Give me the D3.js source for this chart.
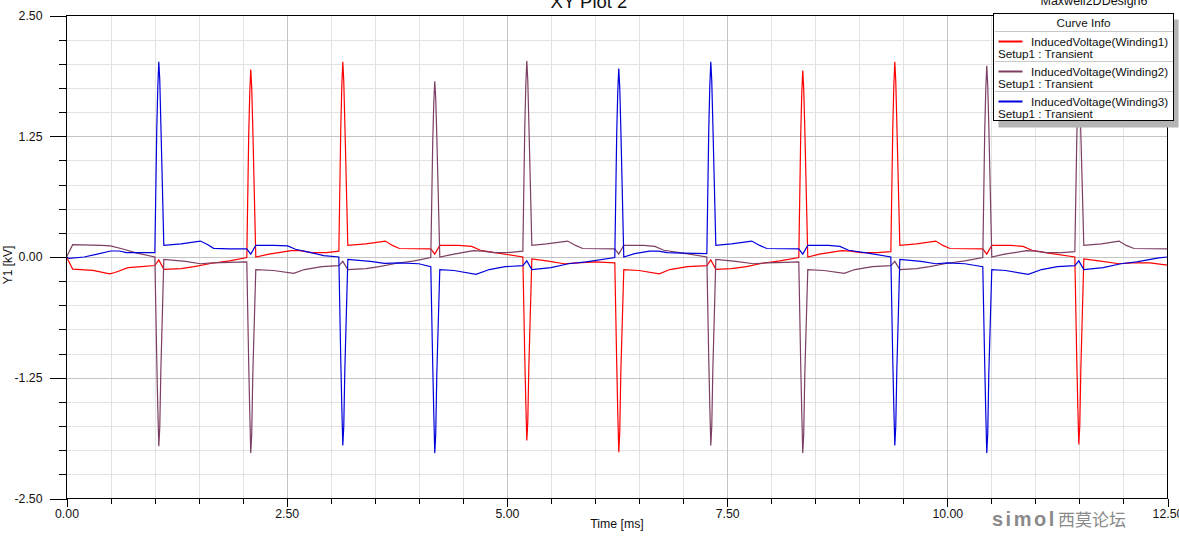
<!DOCTYPE html>
<html><head><meta charset="utf-8">
<script src="https://cdn.jsdelivr.net/npm/d3@7"></script>
<style>
html,body{margin:0;padding:0;background:#fff;overflow:hidden;}
svg{display:block;font-family:"Liberation Sans",Arial,sans-serif;}
</style></head><body>
<svg id="chart" width="1179" height="536"></svg>
<script>
const title = "XY Plot 2";
const designName = "Maxwell2DDesign6";
const xLabel = "Time [ms]";
const yLabel = "Y1 [kV]";
const xTickValues = [0, 2.5, 5, 7.5, 10, 12.5];
const xTickLabels = ["0.00","2.50","5.00","7.50","10.00","12.50"];
const yTickValues = [-2.5, -1.25, 0, 1.25, 2.5];
const yTickLabels = ["-2.50","-1.25","0.00","1.25","2.50"];
const legendTitle = "Curve Info";
const seriesNames = ["InducedVoltage(Winding1)","InducedVoltage(Winding2)","InducedVoltage(Winding3)"];
const seriesSetup = "Setup1 : Transient";
const seriesColors = ["#ff0000","#7c3e62","#0000dd"];

// [time ms, voltage kV]
const winding1 = [
[0,0],[0.07,-0.125],[0.30,-0.138],[0.49,-0.175],[0.55,-0.16],[0.70,-0.11],[0.85,-0.1],[1.003,-0.088],
[1.048,-0.03],
[1.105,-0.128],[1.30,-0.12],[1.45,-0.1],[1.65,-0.065],[1.85,-0.04],[2.047,-0.005],
[2.069,1.28],[2.081,1.71],[2.092,1.94],[2.103,1.75],[2.115,1.34],
[2.149,0.0],[2.30,0.03],[2.55,0.065],[2.65,0.065],[2.78,0.045],[2.95,0.045],[3.092,0.06],
[3.114,1.33],[3.126,1.78],[3.137,2.02],[3.148,1.82],[3.160,1.39],
[3.194,0.12],[3.40,0.135],[3.62,0.165],[3.70,0.12],[3.78,0.088],[4.136,0.085],
[4.181,0.03],
[4.238,0.12],[4.45,0.12],[4.60,0.11],[4.70,0.07],[4.90,0.04],[5.181,0.0],
[5.203,-1.04],[5.215,-1.52],[5.226,-1.90],[5.237,-1.71],[5.249,-1.14],
[5.283,-0.02],[5.45,-0.04],[5.65,-0.07],[5.80,-0.06],[6.0,-0.05],[6.225,-0.06],
[6.247,-1.11],[6.259,-1.62],[6.270,-2.02],[6.281,-1.82],[6.293,-1.21],
[6.327,-0.13],[6.50,-0.14],[6.73,-0.175],[6.85,-0.13],[7.05,-0.1],[7.270,-0.09],
[7.315,-0.03],
[7.372,-0.128],[7.55,-0.12],[7.72,-0.1],[7.90,-0.065],[8.10,-0.04],[8.314,-0.005],
[8.336,1.27],[8.348,1.70],[8.359,1.93],[8.370,1.74],[8.382,1.33],
[8.416,0.0],[8.55,0.03],[8.80,0.065],[8.90,0.06],[9.02,0.045],[9.20,0.045],[9.359,0.055],
[9.381,1.33],[9.393,1.78],[9.404,2.02],[9.415,1.82],[9.427,1.39],
[9.461,0.12],[9.65,0.135],[9.87,0.165],[9.95,0.12],[10.03,0.088],[10.403,0.085],
[10.448,0.03],
[10.505,0.12],[10.72,0.12],[10.86,0.11],[10.96,0.07],[11.15,0.04],[11.448,0.0],
[11.470,-1.07],[11.482,-1.55],[11.493,-1.94],[11.504,-1.75],[11.516,-1.16],
[11.55,-0.02],[11.72,-0.04],[11.95,-0.07],[12.10,-0.06],[12.30,-0.06],[12.5,-0.085]
];
const winding2 = [
[0,0],[0.07,0.128],[0.40,0.12],[0.50,0.115],[0.65,0.08],[0.80,0.04],[1.003,0.0],
[1.025,-1.08],[1.037,-1.58],[1.048,-1.96],[1.059,-1.76],[1.071,-1.18],
[1.105,-0.025],[1.35,-0.045],[1.52,-0.07],[1.65,-0.06],[1.85,-0.055],[2.047,-0.05],
[2.069,-1.12],[2.081,-1.62],[2.092,-2.03],[2.103,-1.83],[2.115,-1.22],
[2.149,-0.13],[2.35,-0.14],[2.58,-0.17],[2.70,-0.13],[2.90,-0.1],[3.092,-0.09],
[3.137,-0.045],
[3.194,-0.13],[3.40,-0.12],[3.55,-0.1],[3.75,-0.065],[3.95,-0.04],[4.136,-0.005],
[4.158,1.20],[4.170,1.60],[4.181,1.82],[4.192,1.64],[4.204,1.26],
[4.238,0.0],[4.40,0.03],[4.62,0.065],[4.72,0.06],[4.85,0.045],[5.0,0.045],[5.181,0.06],
[5.203,1.34],[5.215,1.79],[5.226,2.03],[5.237,1.83],[5.249,1.40],
[5.283,0.12],[5.45,0.135],[5.69,0.165],[5.78,0.12],[5.86,0.088],[6.225,0.085],
[6.270,0.03],
[6.327,0.12],[6.55,0.12],[6.68,0.11],[6.78,0.07],[7.0,0.04],[7.270,0.0],
[7.292,-1.07],[7.304,-1.56],[7.315,-1.95],[7.326,-1.75],[7.338,-1.17],
[7.372,-0.025],[7.60,-0.045],[7.80,-0.07],[7.95,-0.06],[8.15,-0.055],[8.314,-0.05],
[8.336,-1.12],[8.348,-1.62],[8.359,-2.03],[8.370,-1.83],[8.382,-1.22],
[8.416,-0.13],[8.60,-0.14],[8.83,-0.17],[8.95,-0.13],[9.15,-0.1],[9.359,-0.09],
[9.404,-0.045],
[9.461,-0.13],[9.65,-0.12],[9.80,-0.1],[10.0,-0.065],[10.2,-0.04],[10.403,-0.005],
[10.425,1.31],[10.437,1.74],[10.448,1.98],[10.459,1.78],[10.471,1.37],
[10.505,0.0],[10.65,0.03],[10.90,0.065],[11.0,0.06],[11.12,0.045],[11.30,0.045],[11.448,0.055],
[11.470,1.22],[11.482,1.63],[11.493,1.85],[11.504,1.67],[11.516,1.28],
[11.55,0.12],[11.75,0.135],[11.95,0.165],[12.03,0.12],[12.12,0.088],[12.5,0.085]
];
const winding3 = [
[0,0],[0.03,-0.015],[0.2,0.0],[0.35,0.03],[0.5,0.062],[0.6,0.062],[0.68,0.045],[0.85,0.045],[1.003,0.045],
[1.025,1.33],[1.037,1.77],[1.048,2.02],[1.059,1.83],[1.071,1.39],
[1.105,0.12],[1.30,0.135],[1.52,0.165],[1.60,0.13],[1.67,0.09],[1.85,0.085],[2.047,0.085],
[2.092,0.03],
[2.149,0.12],[2.35,0.12],[2.51,0.115],[2.60,0.08],[2.75,0.05],[2.92,0.015],[3.092,0.0],
[3.114,-1.07],[3.126,-1.56],[3.137,-1.95],[3.148,-1.75],[3.160,-1.17],
[3.194,-0.025],[3.45,-0.045],[3.61,-0.065],[3.78,-0.06],[4.00,-0.07],[4.136,-0.1],
[4.158,-1.12],[4.170,-1.62],[4.181,-2.03],[4.192,-1.83],[4.204,-1.22],
[4.238,-0.13],[4.40,-0.14],[4.65,-0.18],[4.80,-0.13],[4.98,-0.1],[5.181,-0.09],
[5.226,-0.04],
[5.283,-0.13],[5.50,-0.11],[5.70,-0.07],[5.90,-0.05],[6.225,-0.005],
[6.247,1.29],[6.259,1.72],[6.270,1.95],[6.281,1.76],[6.293,1.35],
[6.327,0.0],[6.45,0.035],[6.62,0.06],[6.72,0.06],[6.82,0.045],[7.0,0.04],[7.270,0.035],
[7.292,1.33],[7.304,1.78],[7.315,2.02],[7.326,1.82],[7.338,1.39],
[7.372,0.12],[7.55,0.135],[7.78,0.165],[7.87,0.12],[7.95,0.088],[8.314,0.085],
[8.359,0.03],
[8.416,0.12],[8.65,0.12],[8.78,0.11],[8.88,0.07],[9.10,0.04],[9.359,0.0],
[9.381,-1.07],[9.393,-1.56],[9.404,-1.95],[9.415,-1.75],[9.427,-1.17],
[9.461,-0.025],[9.70,-0.045],[9.87,-0.07],[10.0,-0.06],[10.2,-0.07],[10.403,-0.1],
[10.425,-1.12],[10.437,-1.62],[10.448,-2.03],[10.459,-1.83],[10.471,-1.22],
[10.505,-0.13],[10.66,-0.14],[10.92,-0.18],[11.07,-0.13],[11.25,-0.1],[11.448,-0.09],
[11.493,-0.04],
[11.55,-0.13],[11.77,-0.11],[11.97,-0.07],[12.15,-0.05],[12.40,-0.01],[12.5,0.0]
];
const seriesData = [winding1, winding2, winding3];

const svg = d3.select("#chart");
const x = d3.scaleLinear().domain([0, 12.5]).range([66.5, 1167.5]);
const y = d3.scaleLinear().domain([-2.5, 2.5]).range([498.5, 15.5]);

const xMinor = d3.range(1, 25).map(i => i * 0.5).filter(v => !xTickValues.includes(v));
const yMinor = d3.range(-9, 10).map(i => i * 0.25).filter(v => !yTickValues.some(t => Math.abs(t - v) < 1e-9));

// grid
const grid = svg.append("g").attr("shape-rendering", "crispEdges");
grid.selectAll(".vminor").data(xMinor).join("line")
  .attr("x1", d => Math.round(x(d)) + 0.5).attr("x2", d => Math.round(x(d)) + 0.5)
  .attr("y1", y(2.5)).attr("y2", y(-2.5)).attr("stroke", "#e2e2e2");
grid.selectAll(".hminor").data(yMinor).join("line")
  .attr("y1", d => Math.round(y(d)) + 0.5).attr("y2", d => Math.round(y(d)) + 0.5)
  .attr("x1", x(0)).attr("x2", x(12.5)).attr("stroke", "#e2e2e2");
grid.selectAll(".vmajor").data(xTickValues.slice(1, -1)).join("line")
  .attr("x1", d => Math.round(x(d)) + 0.5).attr("x2", d => Math.round(x(d)) + 0.5)
  .attr("y1", y(2.5)).attr("y2", y(-2.5)).attr("stroke", "#c4c4c4");
grid.selectAll(".hmajor").data(yTickValues.slice(1, -1)).join("line")
  .attr("y1", d => Math.round(y(d)) + 0.5).attr("y2", d => Math.round(y(d)) + 0.5)
  .attr("x1", x(0)).attr("x2", x(12.5)).attr("stroke", "#c4c4c4");

// data lines
svg.append("clipPath").attr("id", "clip").append("rect")
  .attr("x", 66).attr("y", 15).attr("width", 1102).attr("height", 484);
const line = d3.line().x(d => x(d[0])).y(d => y(d[1]));
const lines = svg.append("g").attr("clip-path", "url(#clip)");
seriesData.forEach((s, i) => {
  lines.append("path").datum(s).attr("d", line)
    .attr("fill", "none").attr("stroke", seriesColors[i]).attr("stroke-width", 1.2);
});

// frame
svg.append("rect").attr("x", 66.5).attr("y", 15.5).attr("width", 1101).attr("height", 483)
  .attr("fill", "none").attr("stroke", "#000").attr("shape-rendering", "crispEdges");

// axes
const axFont = "12.3px";
const xMinorAxis = svg.append("g").attr("transform", "translate(0,498.5)")
  .call(d3.axisBottom(x).tickValues(xMinor).tickSize(5).tickFormat(""));
const xMajorAxis = svg.append("g").attr("transform", "translate(0,498.5)")
  .call(d3.axisBottom(x).tickValues(xTickValues).tickSize(8).tickPadding(3)
    .tickFormat((d, i) => xTickLabels[i]));
const yMinorAxis = svg.append("g").attr("transform", "translate(66.5,0)")
  .call(d3.axisLeft(y).tickValues(yMinor).tickSize(8).tickFormat(""));
const yMajorAxis = svg.append("g").attr("transform", "translate(66.5,0)")
  .call(d3.axisLeft(y).tickValues(yTickValues).tickSize(17).tickPadding(7)
    .tickFormat((d, i) => yTickLabels[i]));
[xMinorAxis, xMajorAxis, yMinorAxis, yMajorAxis].forEach(g => {
  g.select(".domain").remove();
  g.attr("shape-rendering", "crispEdges");
  g.selectAll("line").attr("stroke", "#000");
  g.selectAll("text").attr("font-size", axFont).attr("fill", "#111")
    .attr("font-family", "'Liberation Sans', Arial, sans-serif");
});

// axis titles
svg.append("text").attr("x", 617).attr("y", 528).attr("text-anchor", "middle")
  .attr("font-size", "12.3px").attr("fill", "#111").text(xLabel);
svg.append("text").attr("transform", "translate(12,265) rotate(-90)").attr("text-anchor", "middle")
  .attr("font-size", "12px").attr("fill", "#111").text(yLabel);

// title and design name (partially cut off at top)
svg.append("text").attr("x", 589).attr("y", 8).attr("text-anchor", "middle")
  .attr("font-size", "18.5px").attr("fill", "#111").text(title);
svg.append("text").attr("x", 1094).attr("y", 5).attr("text-anchor", "middle")
  .attr("font-size", "12.5px").attr("fill", "#111").text(designName);

// legend
const lg = svg.append("g").attr("transform", "translate(993.5,13.5)");
lg.append("rect").attr("x", 5).attr("y", 6).attr("width", 180).attr("height", 108)
  .attr("fill", "#b4b4b4");
lg.append("rect").attr("width", 180).attr("height", 107).attr("fill", "#fff")
  .attr("stroke", "#000").attr("shape-rendering", "crispEdges");
lg.append("text").attr("x", 90).attr("y", 13.5).attr("text-anchor", "middle")
  .attr("font-size", "11.7px").attr("fill", "#111").text(legendTitle);
seriesNames.forEach((name, i) => {
  const top = 18 + i * 30;
  lg.append("line").attr("x1", 1).attr("x2", 179).attr("y1", top).attr("y2", top)
    .attr("stroke", "#c8c8c8").attr("shape-rendering", "crispEdges");
  lg.append("line").attr("x1", 5).attr("x2", 29).attr("y1", top + 10).attr("y2", top + 10)
    .attr("stroke", seriesColors[i]).attr("stroke-width", 2);
  lg.append("text").attr("x", 37.5).attr("y", top + 14).attr("font-size", "11.7px")
    .attr("fill", "#111").text(name);
  lg.append("text").attr("x", 4.5).attr("y", top + 26).attr("font-size", "11.7px")
    .attr("fill", "#111").text(seriesSetup);
});

// watermark
svg.append("text").attr("x", 992).attr("y", 526).attr("font-size", "20px")
  .attr("font-weight", "bold").attr("letter-spacing", "2.5px").attr("fill", "#8a8a8a").text("simol");
svg.append("text").attr("x", 1058).attr("y", 526).attr("font-size", "17px")
  .attr("font-family", "'Noto Sans CJK SC', sans-serif").attr("fill", "#8a8a8a").text("西莫论坛");
</script>
</body></html>
